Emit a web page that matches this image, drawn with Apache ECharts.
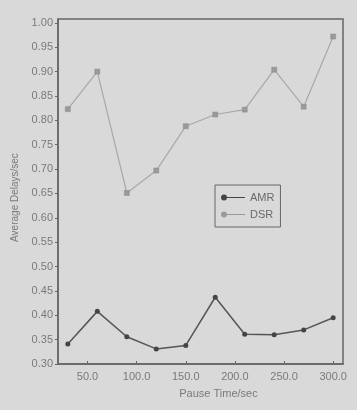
<!DOCTYPE html>
<html>
<head>
<meta charset="utf-8">
<script src="https://cdn.jsdelivr.net/npm/echarts@6/dist/echarts.min.js"></script>
<style>
  html, body { margin: 0; padding: 0; background: #d9d9d9; }
  #chart { width: 357px; height: 410px; }
</style>
</head>
<body>
<div id="chart"></div>
<script>
// pause times (sec)
const pauseTimes = [30, 60, 90, 120, 150, 180, 210, 240, 270, 300];
// average delays (sec)
const amrDelays = [0.341, 0.408, 0.356, 0.331, 0.338, 0.437, 0.361, 0.360, 0.370, 0.395];
const dsrDelays = [0.823, 0.900, 0.651, 0.697, 0.788, 0.812, 0.822, 0.904, 0.828, 0.972];
// tick labels
const xTicks = [50, 100, 150, 200, 250, 300];
const yTicks = [0.30, 0.35, 0.40, 0.45, 0.50, 0.55, 0.60, 0.65, 0.70, 0.75, 0.80, 0.85, 0.90, 0.95, 1.00];

const axisColor = '#666';
const textColor = '#7a7a7a';
const font = 'Liberation Sans, Arial, sans-serif';
const legendIcon = 'path://M0,3 A3,3 0 1,1 6,3 A3,3 0 1,1 0,3 Z M6,2.6 L24,2.6 L24,3.4 L6,3.4 Z';

const chart = echarts.init(document.getElementById('chart'));

const toPairs = (ys) => pauseTimes.map((x, i) => [x, ys[i]]);

chart.setOption({
  backgroundColor: '#d9d9d9',
  animation: false,
  grid: {
    left: 58,
    right: 14,
    top: 19,
    bottom: 46,
    outerBoundsMode: 'none',
    show: true,
    borderColor: axisColor,
    borderWidth: 1.5,
    backgroundColor: 'transparent',
  },
  legend: {
    left: 215,
    top: 185,
    orient: 'vertical',
    padding: [7, 6, 7, 6],
    itemGap: 6,
    itemWidth: 24,
    itemHeight: 6,
    borderColor: axisColor,
    borderWidth: 1,
    itemStyle: { borderWidth: 0 },
    textStyle: { fontFamily: font, fontSize: 11, color: '#6a6a6a' },
    data: [
      { name: 'AMR', icon: legendIcon },
      { name: 'DSR', icon: legendIcon },
    ],
  },
  xAxis: {
    type: 'value',
    min: 20,
    max: 310,
    name: 'Pause Time/sec',
    nameLocation: 'middle',
    nameGap: 24,
    nameTextStyle: { fontFamily: font, fontSize: 11, color: textColor, padding: [0, 0, 0, 36] },
    splitLine: { show: false },
    axisLine: { lineStyle: { color: axisColor, width: 1.5 } },
    axisTick: { inside: true, length: 3, customValues: xTicks, lineStyle: { color: axisColor } },
    axisLabel: {
      customValues: xTicks,
      formatter: (v) => v.toFixed(1),
      fontFamily: font,
      fontSize: 11,
      color: textColor,
      margin: 7,
    },
  },
  yAxis: {
    type: 'value',
    min: 0.3,
    max: 1.008,
    name: 'Average Delays/sec',
    nameLocation: 'middle',
    nameGap: 37,
    nameTextStyle: { fontFamily: font, fontSize: 10, color: textColor, padding: [0, 12, 0, 0] },
    splitLine: { show: false },
    axisLine: { lineStyle: { color: axisColor, width: 1.5 } },
    axisTick: { length: 3, customValues: yTicks, lineStyle: { color: axisColor } },
    axisLabel: {
      customValues: yTicks,
      formatter: (v) => v.toFixed(2),
      fontFamily: font,
      fontSize: 11,
      color: textColor,
      margin: 5,
    },
  },
  series: [
    {
      name: 'AMR',
      type: 'line',
      data: toPairs(amrDelays),
      symbol: 'circle',
      symbolSize: 5,
      lineStyle: { color: '#555', width: 1.5 },
      itemStyle: { color: '#444' },
    },
    {
      name: 'DSR',
      type: 'line',
      data: toPairs(dsrDelays),
      symbol: 'rect',
      symbolSize: 5,
      lineStyle: { color: '#a8a8a8', width: 1.2 },
      itemStyle: { color: '#9a9a9a', borderColor: '#888', borderWidth: 0.5 },
    },
  ],
});
</script>
</body>
</html>
